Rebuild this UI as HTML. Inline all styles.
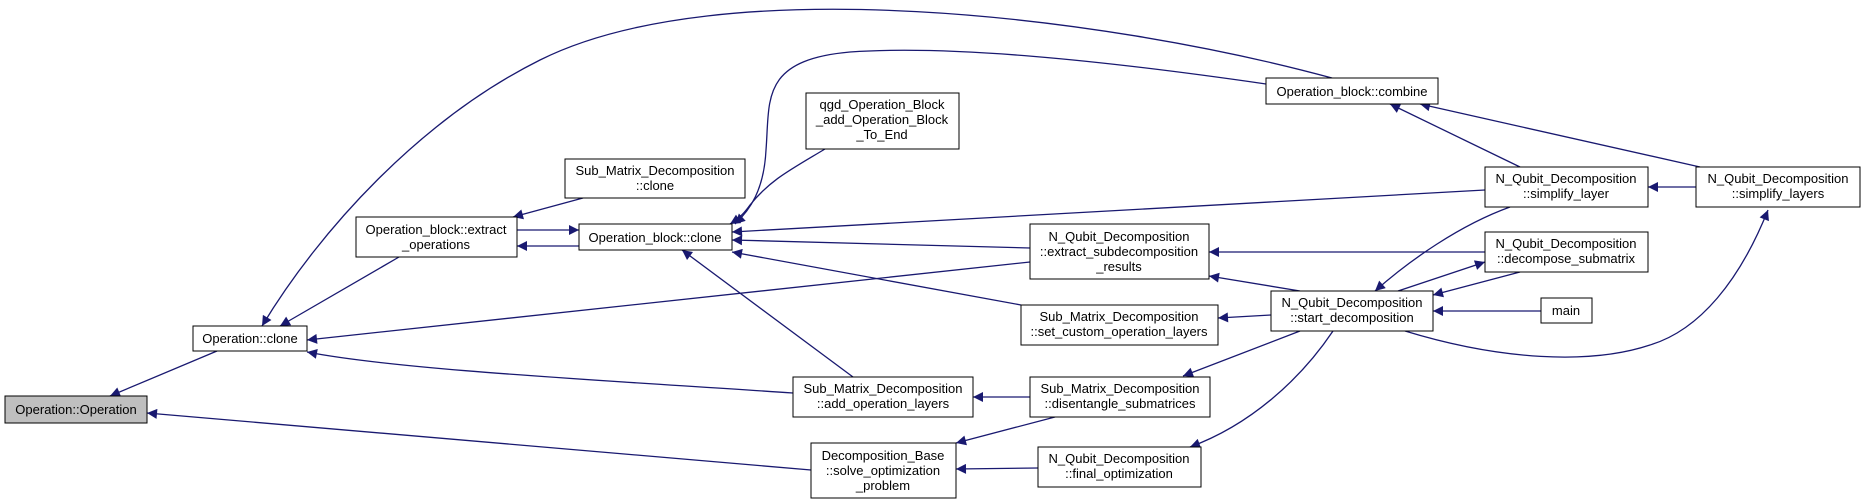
<!DOCTYPE html>
<html><head><meta charset="utf-8"><style>
html,body{margin:0;padding:0;background:#fff;width:1864px;height:504px;overflow:hidden}
text{font-family:"Liberation Sans",Arial,sans-serif;font-size:13px;fill:#000}
</style></head><body>
<svg width="1864" height="504" viewBox="0 0 1864 504" xmlns="http://www.w3.org/2000/svg">
<defs><marker id="a" viewBox="0 0 10 10" refX="10" refY="5" markerWidth="13" markerHeight="10" markerUnits="userSpaceOnUse" orient="auto"><path d="M0,0 L10,5 L0,10 z" fill="#191970"/></marker></defs>
<g fill="none" stroke="#191970" stroke-width="1.3" marker-end="url(#a)">
<path d="M217,351 L110,396"/>
<path d="M811,470 L147,413"/>
<path d="M399,257 L280,326"/>
<path d="M1332,78 C1100,15 720,-30 540,60 C420,120 320,230 262,326"/>
<path d="M1030,262 L307,340"/>
<path d="M793,393 C600,380 400,370 307,352"/>
<path d="M517,230 L579,230"/>
<path d="M579,246 L517,246"/>
<path d="M583,198 L513,217"/>
<path d="M825,149 C790,170 770,180 750,205 C745,212 740,218 730,224"/>
<path d="M1266,84 C1100,60 950,45 850,52 C760,60 770,100 766,150 C764,190 750,210 735,224"/>
<path d="M1485,190 L732,232"/>
<path d="M1030,248 L732,240"/>
<path d="M1021,305 L732,252"/>
<path d="M853,377 L682,250"/>
<path d="M1520,167 L1390,104"/>
<path d="M1700,167 L1420,104"/>
<path d="M1696,187 L1648,187"/>
<path d="M1485,252 L1209,252"/>
<path d="M1300,291 L1209,276"/>
<path d="M1271,315 L1218,318"/>
<path d="M1300,331 L1183,376"/>
<path d="M1510,207 C1460,225 1410,260 1375,291"/>
<path d="M1398,291 L1485,262"/>
<path d="M1520,272 L1433,295"/>
<path d="M1541,311 L1433,311"/>
<path d="M1405,331 C1500,360 1590,365 1650,345 C1700,330 1740,280 1768,210"/>
<path d="M1030,397 L973,397"/>
<path d="M1055,417 L956,443"/>
<path d="M1038,468 L956,469"/>
<path d="M1333,331 C1300,380 1250,425 1190,447"/>
</g>
<g stroke="#000" stroke-width="1" fill="#fff">
<rect x="5" y="396" width="142" height="27" fill="#bfbfbf"/>
<rect x="193" y="326" width="114" height="25"/>
<rect x="356" y="217" width="161" height="40"/>
<rect x="565" y="159" width="180" height="39"/>
<rect x="579" y="224" width="153" height="26"/>
<rect x="806" y="93" width="153" height="56"/>
<rect x="1266" y="78" width="172" height="26"/>
<rect x="1030" y="224" width="179" height="55"/>
<rect x="1021" y="305" width="197" height="40"/>
<rect x="793" y="377" width="180" height="40"/>
<rect x="1030" y="377" width="180" height="40"/>
<rect x="811" y="443" width="145" height="55"/>
<rect x="1038" y="447" width="163" height="40"/>
<rect x="1485" y="167" width="163" height="40"/>
<rect x="1696" y="167" width="164" height="40"/>
<rect x="1485" y="232" width="163" height="40"/>
<rect x="1271" y="291" width="162" height="40"/>
<rect x="1541" y="298" width="51" height="25"/>
</g>
<g text-anchor="middle">
<text x="76" y="414">Operation::Operation</text>
<text x="250" y="343">Operation::clone</text>
<text x="436" y="234">Operation_block::extract</text><text x="436" y="249">_operations</text>
<text x="655" y="175">Sub_Matrix_Decomposition</text><text x="655" y="190">::clone</text>
<text x="655" y="242">Operation_block::clone</text>
<text x="882" y="109">qgd_Operation_Block</text><text x="882" y="124">_add_Operation_Block</text><text x="882" y="139">_To_End</text>
<text x="1352" y="96">Operation_block::combine</text>
<text x="1119" y="241">N_Qubit_Decomposition</text><text x="1119" y="256">::extract_subdecomposition</text><text x="1119" y="271">_results</text>
<text x="1119" y="321">Sub_Matrix_Decomposition</text><text x="1119" y="336">::set_custom_operation_layers</text>
<text x="883" y="393">Sub_Matrix_Decomposition</text><text x="883" y="408">::add_operation_layers</text>
<text x="1120" y="393">Sub_Matrix_Decomposition</text><text x="1120" y="408">::disentangle_submatrices</text>
<text x="883" y="460">Decomposition_Base</text><text x="883" y="475">::solve_optimization</text><text x="883" y="490">_problem</text>
<text x="1119" y="463">N_Qubit_Decomposition</text><text x="1119" y="478">::final_optimization</text>
<text x="1566" y="183">N_Qubit_Decomposition</text><text x="1566" y="198">::simplify_layer</text>
<text x="1778" y="183">N_Qubit_Decomposition</text><text x="1778" y="198">::simplify_layers</text>
<text x="1566" y="248">N_Qubit_Decomposition</text><text x="1566" y="263">::decompose_submatrix</text>
<text x="1352" y="307">N_Qubit_Decomposition</text><text x="1352" y="322">::start_decomposition</text>
<text x="1566" y="315">main</text>
</g>
</svg>
</body></html>
